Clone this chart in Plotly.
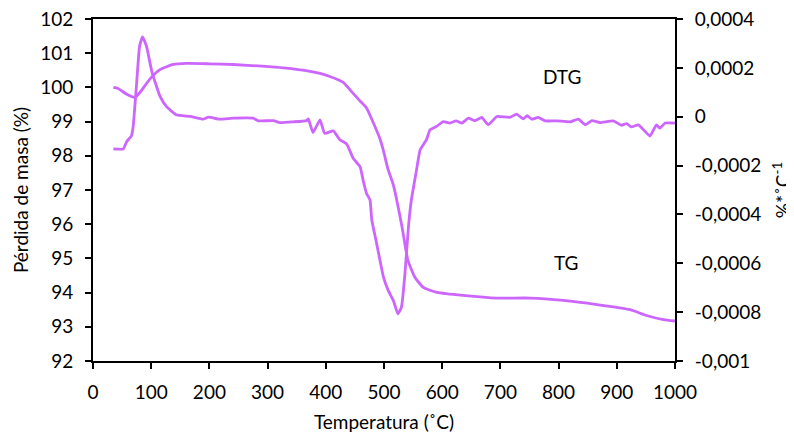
import plotly.graph_objects as go

# TG curve (left axis, % mass)
tg_temp = [35, 43, 58, 72, 80, 98, 115, 138, 161, 200, 241, 290, 327, 373, 390, 407,
           430, 442, 459, 470, 482, 493, 499, 507, 516, 531, 541, 553, 567, 579, 591,
           636, 694, 751, 808, 866, 923, 951, 980, 1000]
tg_mass = [100.00, 99.97, 99.80, 99.71, 99.84, 100.25, 100.52, 100.67, 100.70, 100.69,
           100.67, 100.62, 100.57, 100.47, 100.41, 100.32, 100.15, 99.92, 99.60, 99.40,
           98.95, 98.50, 98.15, 97.60, 97.15, 95.92, 94.95, 94.45, 94.16, 94.07, 94.01,
           93.92, 93.84, 93.84, 93.77, 93.65, 93.50, 93.33, 93.21, 93.17]

# DTG curve (right axis, %*C^-1)
dtg_temp = [35, 52, 58, 66, 69, 75, 80, 85, 92, 101, 115, 126, 143, 167, 189, 198, 218,
            241, 275, 284, 310, 321, 344, 367, 370, 378, 390, 398, 413, 424, 436, 447,
            459, 464, 470, 476, 479, 485, 493, 499, 507, 516, 524, 530, 536, 542, 547,
            556, 562, 573, 579, 590, 602, 613, 624, 634, 645, 656, 668, 679, 694, 716,
            728, 739, 746, 754, 765, 777, 797, 820, 834, 846, 857, 871, 894, 908, 917,
            925, 937, 957, 968, 974, 983, 1000]
dtg_val = [-0.000132, -0.000132, -0.000101, -0.000079, -0.000040, 0.000138, 0.000288,
           0.000327, 0.000288, 0.000186, 0.000084, 0.000042, 0.000008, 0.000001,
           -0.000010, -0.000002, -0.000010, -0.000006, -0.000006, -0.000017, -0.000016,
           -0.000024, -0.000021, -0.000016, -0.000009, -0.000065, -0.000013, -0.000068,
           -0.000058, -0.000094, -0.000112, -0.000170, -0.000205, -0.000259, -0.000314,
           -0.000341, -0.000423, -0.000492, -0.000587, -0.000656, -0.000710, -0.000752,
           -0.000807, -0.000779, -0.000642, -0.000451, -0.000341, -0.000217, -0.000136,
           -0.000094, -0.000054, -0.000040, -0.000020, -0.000026, -0.000017, -0.000026,
           -0.000006, -0.000016, -0.000003, -0.000033, 0.000001, -0.000003, 0.000011,
           -0.000009, 0.000004, -0.000010, -0.000003, -0.000017, -0.000017, -0.000021,
           -0.000010, -0.000033, -0.000016, -0.000024, -0.000017, -0.000035, -0.000028,
           -0.000042, -0.000033, -0.000079, -0.000033, -0.000047, -0.000026, -0.000026]

x_ticks = list(range(0, 1001, 100))
y_ticks = list(range(92, 103))
y2_ticks = [-0.001, -0.0008, -0.0006, -0.0004, -0.0002, 0, 0.0002, 0.0004]
y2_labels = ["-0,001", "-0,0008", "-0,0006", "-0,0004", "-0,0002", "0", "0,0002", "0,0004"]

color = "#CC66FF"
font = "Lato, 'Open Sans', sans-serif"
fs = 19

fig = go.Figure()
fig.add_trace(go.Scatter(x=tg_temp, y=tg_mass, mode="lines",
                         line=dict(color=color, width=2.8, shape="spline", smoothing=0.5),
                         name="TG"))
fig.add_trace(go.Scatter(x=dtg_temp, y=dtg_val, mode="lines", yaxis="y2",
                         line=dict(color=color, width=2.8, shape="spline", smoothing=0.4),
                         name="DTG"))

axis_common = dict(showgrid=False, zeroline=False, showline=True, linecolor="black",
                   linewidth=2, ticks="outside", ticklen=6, tickwidth=2, tickcolor="black",
                   automargin=False, ticklabeloverflow="allow",
                   tickfont=dict(size=fs, color="black"))

# page body has an 8px margin, so the figure is 8px smaller than the window
fig.update_layout(
    width=786, height=428,
    margin=dict(l=85, r=119, t=11, b=75),
    paper_bgcolor="white", plot_bgcolor="white",
    font=dict(family=font, size=fs, color="black"),
    showlegend=False,
    xaxis=dict(range=[0, 1000], tickvals=x_ticks, mirror=True, ticklabelstandoff=7,
               title=dict(text="Temperatura (˚C)", font=dict(size=fs), standoff=14),
               **axis_common),
    yaxis=dict(range=[92, 102], tickvals=y_ticks, ticklabelstandoff=8,
               title=dict(text="Pérdida de masa (%)", font=dict(size=fs), standoff=6),
               **axis_common),
    yaxis2=dict(range=[-0.001, 0.0004], tickvals=y2_ticks, ticktext=y2_labels,
                overlaying="y", side="right", ticklabelstandoff=8,
                title=dict(text="%*˚C<sup>-1</sup>", font=dict(size=fs), standoff=19),
                **axis_common),
    annotations=[
        dict(x=806, y=100.31, xref="x", yref="y", text="DTG", showarrow=False,
             font=dict(size=fs, color="black")),
        dict(x=814, y=94.89, xref="x", yref="y", text="TG", showarrow=False,
             font=dict(size=fs, color="black")),
    ],
)

fig.write_html("out.html")
